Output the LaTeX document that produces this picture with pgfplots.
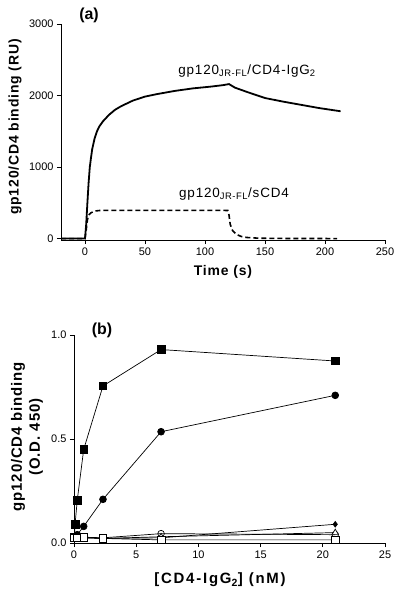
\documentclass[border=0pt]{standalone}
\usepackage{pgfplots}
\pgfplotsset{compat=1.18}
\usepackage{fontspec}
\setmainfont{Liberation Sans}
\newfontfamily\spaced[LetterSpace=6]{Liberation Sans}
\newfontfamily\wide[LetterSpace=12]{Liberation Sans}
\begin{document}
\begin{tikzpicture}
\useasboundingbox (0bp,0bp) rectangle (400bp,-592bp);
\pgfplotsset{
  gp/.style={
    scale only axis,
    axis lines=left,
    axis line style={-, line width=0.8bp},
    tick align=outside,
    major tick length=4bp,
    tick style={line width=0.8bp, black},
    tick label style={font=\fontsize{11}{13}\selectfont},
    /pgf/number format/assume math mode=true,
    clip=false,
  }
}
% ---------------- panel (a)
\begin{axis}[gp,
  at={(61bp,-240bp)}, anchor=south west,
  width=324bp, height=216bp,
  xmin=-20, xmax=250, ymin=-20, ymax=3000,
  xtick={0,50,...,250}, ytick={0,1000,2000,3000},
  yticklabel style={/pgf/number format/1000 sep={}},
  ]
\addplot[line width=1.8bp, black] coordinates {
(-20,0) (0,0) (1,200) (2,500) (3,780) (4,1000) (5,1130) (6,1250) (8,1400) (10,1500)
(12,1570) (15,1640) (20,1730) (25,1800) (30,1850) (40,1930) (50,1985) (60,2020)
(75,2065) (90,2100) (105,2125) (115,2145) (120,2160) (125,2110) (135,2050)
(150,1965) (165,1915) (180,1870) (195,1825) (213,1780)};
\addplot[line width=1.6bp, black, dash pattern=on 5bp off 3bp] coordinates {
(-20,0) (0,0) (1,120) (2,260) (3,330) (5,360) (8,385) (12,392) (20,395) (60,395)
(100,395) (119,393) (120,330) (121,200) (123,110) (126,60) (130,30) (135,15)
(145,5) (160,2) (210,0)};
\end{axis}
\node[font=\bfseries\fontsize{16}{18}\selectfont] at (89bp,-15bp) {(a)};
\node[font=\spaced\bfseries\fontsize{14}{16}\selectfont] at (223bp,-272bp) {Time (s)};
\node[font=\spaced\bfseries\fontsize{14}{16}\selectfont, rotate=90] at (15bp,-127bp) {gp120/CD4 binding (RU)};
\node[font=\spaced\fontsize{13.5}{15}\selectfont] at (247bp,-71bp) {gp120\textsubscript{JR-FL}/CD4-IgG\textsubscript{2}};
\node[font=\spaced\fontsize{13.5}{15}\selectfont] at (234bp,-194bp) {gp120\textsubscript{JR-FL}/sCD4};
% ---------------- panel (b)
\begin{axis}[gp,
  at={(74bp,-543bp)}, anchor=south west,
  width=311bp, height=208bp,
  xmin=0, xmax=25, ymin=0, ymax=1,
  xtick={0,5,...,25}, ytick={0,0.5,1},
  yticklabel style={/pgf/number format/.cd, fixed, fixed zerofill, precision=1},
  every axis plot/.append style={line width=0.7bp, black},
  ]
\addplot[mark=square*, mark size=3.8bp, mark options={fill=black}] coordinates {
(0.029,0.03) (0.086,0.09) (0.26,0.205) (0.78,0.45) (2.33,0.755) (7,0.93) (21,0.875)};
\addplot[mark=*, mark size=3.4bp, mark options={fill=black}] coordinates {
(0.029,0.025) (0.086,0.03) (0.26,0.04) (0.78,0.08) (2.33,0.21) (7,0.535) (21,0.71)};
\addplot[mark=diamond*, mark size=2.8bp, mark options={fill=black}] coordinates {
(0.029,0.025) (0.086,0.03) (0.26,0.03) (0.78,0.025) (2.33,0.022) (7,0.025) (21,0.09)};
\addplot[mark=o, mark size=3.3bp, mark options={fill=white}] coordinates {
(0.029,0.03) (0.26,0.03) (0.78,0.028) (2.33,0.025) (7,0.045) (21,0.04)};
\addplot[mark=triangle*, mark size=3.5bp, mark options={fill=white}] coordinates {
(0.029,0.025) (0.26,0.025) (0.78,0.025) (2.33,0.022) (7,0.03) (21,0.05)};
\addplot[mark=square*, mark size=3.8bp, mark options={fill=white}] coordinates {
(0.029,0.025) (0.26,0.025) (0.78,0.028) (2.33,0.022) (7,0.015) (21,0.015)};
\end{axis}
\node[font=\bfseries\fontsize{16}{18}\selectfont] at (102bp,-330bp) {(b)};
\node[font=\wide\bfseries\fontsize{15}{17}\selectfont] at (220bp,-580bp) {[CD4-IgG\textsubscript{2}] (nM)};
\node[font=\spaced\bfseries\fontsize{15}{18}\selectfont, rotate=90, align=center] at (27bp,-437bp) {gp120/CD4 binding\\(O.D. 450)};
\end{tikzpicture}
\end{document}
